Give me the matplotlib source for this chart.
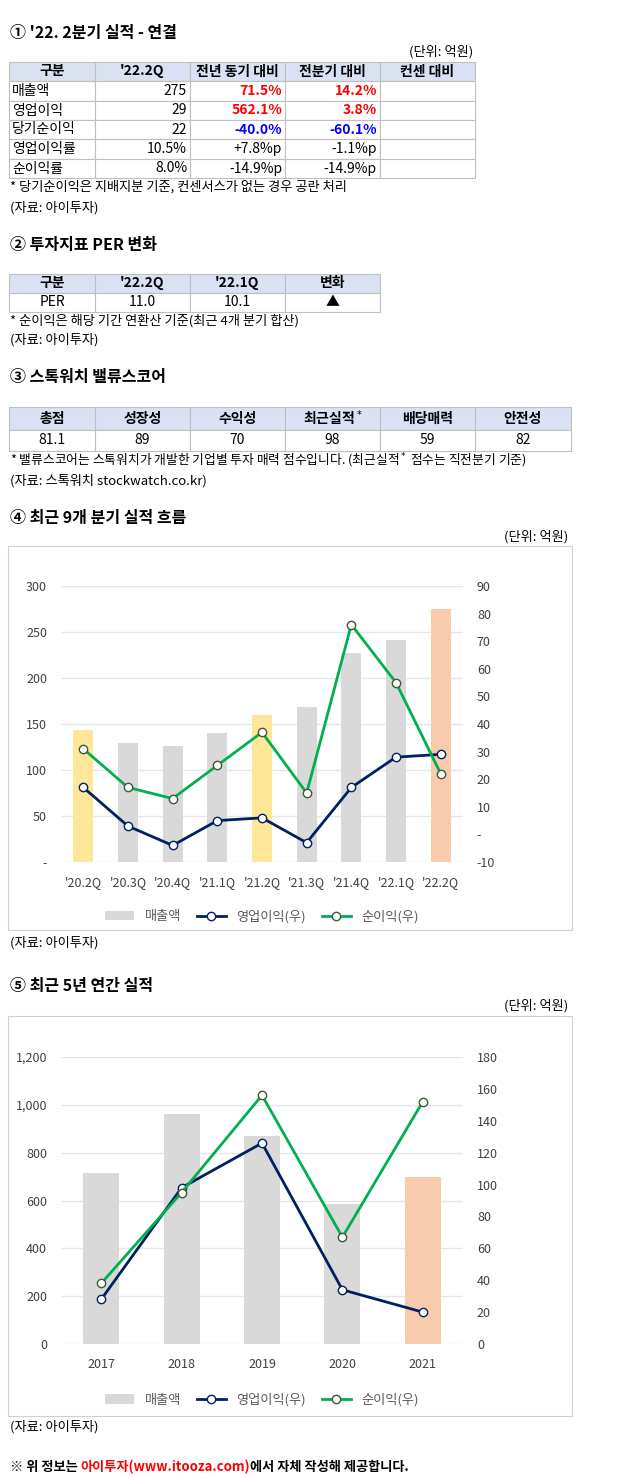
import matplotlib

matplotlib.use("Agg")
import matplotlib.pyplot as plt
from matplotlib.patches import Rectangle
from matplotlib.lines import Line2D

plt.rcParams["font.family"] = ["Noto Sans CJK JP", "DejaVu Sans"]

W, H = 640, 1477

# ---------------------------------------------------------------------------
# 데이터
# ---------------------------------------------------------------------------
t1_header = ["구분", "'22.2Q", "전년 동기 대비", "전분기 대비", "컨센 대비"]
t1_rows = ["매출액", "영업이익", "당기순이익", "영업이익률", "순이익률"]
t1_q = ["275", "29", "22", "10.5%", "8.0%"]
t1_yoy = ["71.5%", "562.1%", "-40.0%", "+7.8%p", "-14.9%p"]
t1_qoq = ["14.2%", "3.8%", "-60.1%", "-1.1%p", "-14.9%p"]
t1_colors = ["red", "red", "blue", "black", "black"]

t2_header = ["구분", "'22.2Q", "'22.1Q", "변화"]
t2_row = ["PER", "11.0", "10.1", "▲"]

t3_header = ["총점", "성장성", "수익성", "최근실적$^*$", "배당매력", "안전성"]
t3_row = ["81.1", "89", "70", "98", "59", "82"]

quarters = ["'20.2Q", "'20.3Q", "'20.4Q", "'21.1Q", "'21.2Q", "'21.3Q", "'21.4Q", "'22.1Q", "'22.2Q"]
q_sales = [143, 129, 126, 140, 160, 168, 227, 241, 275]
q_op = [17, 3, -4, 5, 6, -3, 17, 28, 29]
q_net = [31, 17, 13, 25, 37, 15, 76, 55, 22]

years = ["2017", "2018", "2019", "2020", "2021"]
y_sales = [715, 962, 868, 585, 697]
y_op = [28, 98, 126, 34, 20]
y_net = [38, 95, 156, 67, 152]

GRAY = "#d9d9d9"
YELLOW = "#ffe699"
PEACH = "#f8cbad"
NAVY = "#002060"
GREEN = "#00b050"
HEAD = "#d9e1f2"

fig = plt.figure(figsize=(W / 100, H / 100), dpi=100)


def fx(x):
    return x / W


def fy(y):
    return 1 - y / H


def text(x, y, s, size=10, **kw):
    return fig.text(fx(x), fy(y), s, fontsize=size, va="center", **kw)


def rect(x0, y0, x1, y1, fc="white", ec="#bfbfbf", lw=0.8, z=1):
    fig.add_artist(Rectangle((fx(x0), fy(y1)), fx(x1 - x0), (y1 - y0) / H,
                             transform=fig.transFigure, fc=fc, ec=ec, lw=lw, zorder=z))


def table(cols, rows_y, cells, aligns=None, colors=None):
    for r in range(len(rows_y) - 1):
        for c in range(len(cols) - 1):
            fc = HEAD if r == 0 else "white"
            rect(cols[c], rows_y[r], cols[c + 1], rows_y[r + 1], fc=fc)
            s = cells[r][c]
            yc = (rows_y[r] + rows_y[r + 1]) / 2
            if r == 0:
                text((cols[c] + cols[c + 1]) / 2, yc, s, ha="center", weight="bold")
                continue
            al = aligns[c] if aligns else "center"
            col = colors[r][c] if colors else "black"
            wt = "bold" if col != "black" else "normal"
            if al == "left":
                text(cols[c] + 3, yc, s, ha="left", color=col, weight=wt)
            elif al == "right":
                text(cols[c + 1] - 3, yc, s, ha="right", color=col, weight=wt)
            else:
                text((cols[c] + cols[c + 1]) / 2, yc, s, ha="center", color=col, weight=wt)


# ① 실적 테이블
text(10, 33, "① '22. 2분기 실적 - 연결", size=11.5, weight="bold")
text(473, 52, "(단위: 억원)", size=9.5, ha="right")
cells1 = [t1_header] + [[t1_rows[i], t1_q[i], t1_yoy[i], t1_qoq[i], ""] for i in range(5)]
colors1 = [None] + [["black", "black", t1_colors[i], t1_colors[i], "black"] for i in range(5)]
table([9, 95, 190, 285, 380, 475], [62, 81, 101, 120, 139, 159, 178], cells1,
      aligns=["left", "right", "right", "right", "right"], colors=colors1)
text(10, 187, "* 당기순이익은 지배지분 기준, 컨센서스가 없는 경우 공란 처리", size=9.5)
text(10, 208, "(자료: 아이투자)", size=9.5)

# ② PER
text(10, 245, "② 투자지표 PER 변화", size=11.5, weight="bold")
table([9, 95, 190, 285, 380], [274, 293, 312], [t2_header, t2_row])
text(10, 321, "* 순이익은 해당 기간 연환산 기준(최근 4개 분기 합산)", size=9.5)
text(10, 340, "(자료: 아이투자)", size=9.5)

# ③ 밸류스코어
text(10, 377, "③ 스톡워치 밸류스코어", size=11.5, weight="bold")
table([9, 95, 190, 285, 380, 475, 571], [407, 430, 451], [t3_header, t3_row])
text(10, 461, "* 밸류스코어는 스톡워치가 개발한 기업별 투자 매력 점수입니다. (최근실적$^*$ 점수는 직전분기 기준)", size=9.2)
text(10, 481, "(자료: 스톡워치 stockwatch.co.kr)", size=9.5)


def combo(frame, plot, cats, sales, op, net, bar_colors, lim_l, ticks_l, lim_r, ticks_r,
          fmt_l, fmt_r, bar_w):
    rect(frame[0], frame[1], frame[2], frame[3], ec="#d0d0d0", z=-5)
    x0, y0, x1, y1 = plot
    ax = fig.add_axes([fx(x0), fy(y1), fx(x1 - x0), (y1 - y0) / H])
    ax.patch.set_alpha(0)
    xs = range(len(cats))
    ax.bar(xs, sales, width=bar_w, color=bar_colors, zorder=2)
    ax.set_ylim(*lim_l)
    ax.set_yticks(ticks_l)
    ax.set_yticklabels([fmt_l(v) for v in ticks_l], fontsize=9, color="#404040")
    ax.set_xticks(list(xs))
    ax.set_xticklabels(cats, fontsize=9, color="#404040")
    ax.set_xlim(-0.5, len(cats) - 0.5)
    ax.grid(axis="y", color="#e6e6e6", lw=1, zorder=0)
    for s in ax.spines.values():
        s.set_visible(False)
    ax.tick_params(length=0, pad=10)
    ax2 = ax.twinx()
    ax2.plot(xs, op, color=NAVY, lw=2, marker="o", ms=6, mfc="white", mec=NAVY, zorder=3)
    ax2.plot(xs, net, color=GREEN, lw=2, marker="o", ms=6, mfc="white", mec="#3a5a3a", zorder=3)
    ax2.set_ylim(*lim_r)
    ax2.set_yticks(ticks_r)
    ax2.set_yticklabels([fmt_r(v) for v in ticks_r], fontsize=9, color="#404040")
    for s in ax2.spines.values():
        s.set_visible(False)
    ax2.tick_params(length=0, pad=10)
    handles = [Rectangle((0, 0), 1, 1, fc=GRAY),
               Line2D([], [], color=NAVY, lw=2, marker="o", mfc="white", ms=6),
               Line2D([], [], color=GREEN, lw=2, marker="o", mfc="white", mec="#3a5a3a", ms=6)]
    ax.legend(handles, ["매출액", "영업이익(우)", "순이익(우)"], loc="upper center",
              bbox_to_anchor=(0.5, -0.13), ncol=3, frameon=False, fontsize=9.5,
              handlelength=2.2, columnspacing=1.2, labelcolor="#595959")


# ④ 분기 실적
text(10, 518, "④ 최근 9개 분기 실적 흐름", size=11.5, weight="bold")
text(568, 537, "(단위: 억원)", size=9.5, ha="right")
qcolors = [YELLOW, GRAY, GRAY, GRAY, YELLOW, GRAY, GRAY, GRAY, PEACH]
combo((8, 546, 572, 930), (61, 586, 463, 862), quarters, q_sales, q_op, q_net, qcolors,
      (0, 300), [0, 50, 100, 150, 200, 250, 300], (-10, 90), list(range(-10, 91, 10)),
      lambda v: "-" if v == 0 else str(v), lambda v: "-" if v == 0 else str(v), 0.45)
text(10, 943, "(자료: 아이투자)", size=9.5)

# ⑤ 연간 실적
text(10, 986, "⑤ 최근 5년 연간 실적", size=11.5, weight="bold")
text(568, 1006, "(단위: 억원)", size=9.5, ha="right")
ycolors = [GRAY, GRAY, GRAY, GRAY, PEACH]
combo((8, 1016, 572, 1416), (61, 1057, 463, 1344), years, y_sales, y_op, y_net, ycolors,
      (0, 1200), list(range(0, 1201, 200)), (0, 180), list(range(0, 181, 20)),
      lambda v: f"{v:,}", lambda v: str(v), 0.45)
text(10, 1427, "(자료: 아이투자)", size=9.5)

# 하단 안내문 (부분 색상)
renderer = fig.canvas.get_renderer()
x = 10
for part, col in [("※ 위 정보는 ", "black"), ("아이투자(www.itooza.com)", "red"),
                  ("에서 자체 작성해 제공합니다.", "black")]:
    t = text(x, 1467, part, size=9.5, weight="bold", color=col)
    x += t.get_window_extent(renderer).width

fig.savefig("out.png", dpi=100)
